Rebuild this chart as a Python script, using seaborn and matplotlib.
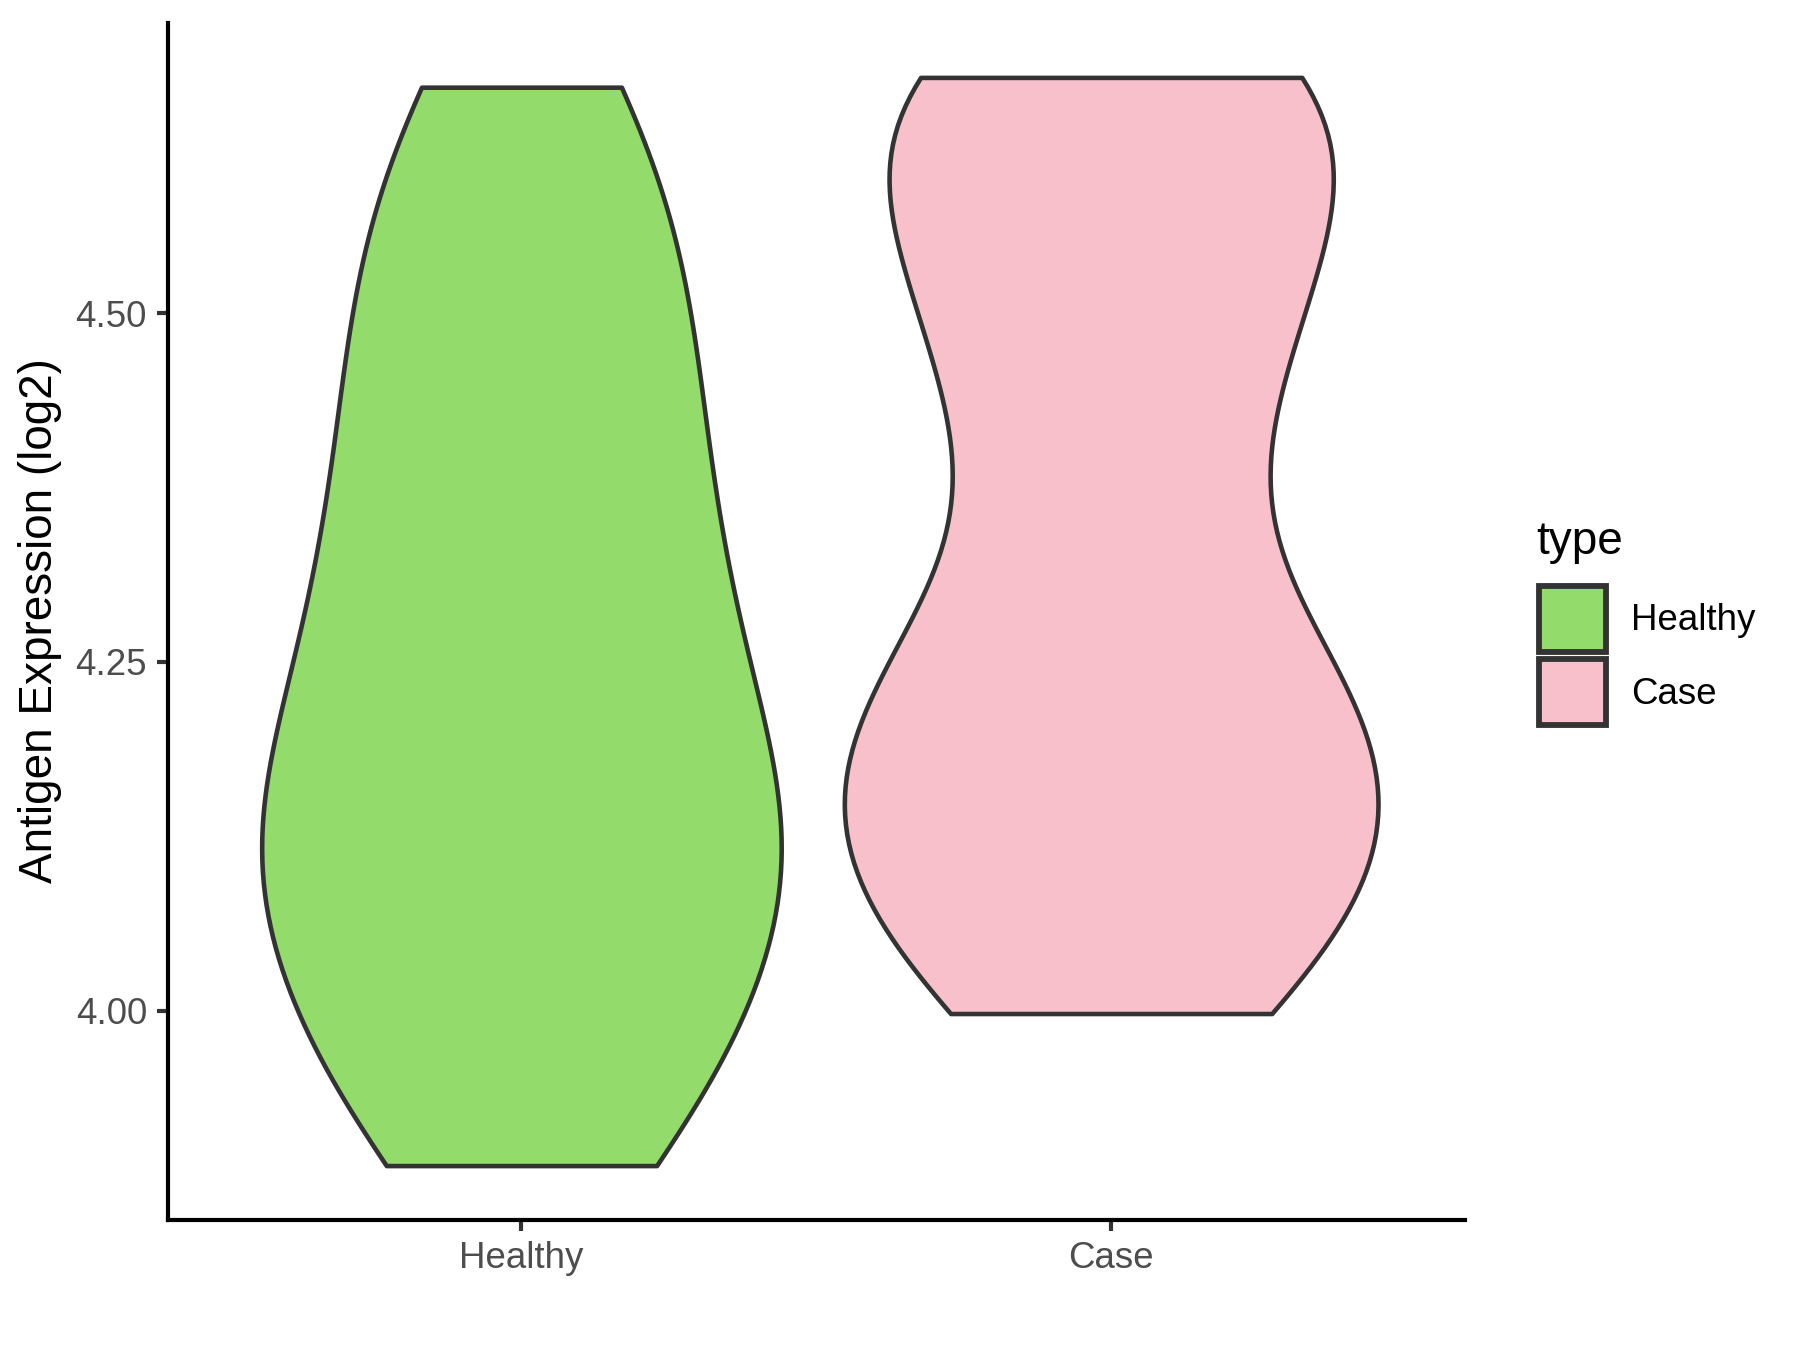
import numpy as np
import pandas as pd
import matplotlib
matplotlib.use("Agg")
import matplotlib.pyplot as plt
import seaborn as sns
from matplotlib.patches import Patch

# ---- data ----
categories = ["Healthy", "Case"]
healthy_values = [3.889, 3.95, 4.01, 4.06, 4.10, 4.14, 4.185, 4.24, 4.30,
                  4.36, 4.43, 4.50, 4.57, 4.662]
case_values = [3.998, 4.07, 4.12, 4.17, 4.22, 4.29, 4.415, 4.505, 4.575,
               4.655, 4.669]
fill_colors = {"Healthy": "#93DB6B", "Case": "#F8C0CB"}
y_ticks = [4.00, 4.25, 4.50]
y_tick_labels = ["4.00", "4.25", "4.50"]
y_label = "Antigen Expression (log2)"
legend_title = "type"

df = pd.DataFrame({
    "type": ["Healthy"] * len(healthy_values) + ["Case"] * len(case_values),
    "value": healthy_values + case_values,
})

sns.set_theme(style="ticks")
plt.rcParams["font.family"] = ["Liberation Sans", "DejaVu Sans"]

fig = plt.figure(figsize=(6, 4.5), dpi=300)
ax = fig.add_axes([167.6 / 1800, 1 - 1220 / 1350, (1465 - 167.6) / 1800, (1220 - 23) / 1350])

kernel_sd = {"Healthy": 0.10, "Case": 0.09}
violin_width = {"Healthy": 0.881, "Case": 0.905}
edge = "#333333"
violin_lw = 1.1
axis_lw = 1.0

for cat in categories:
    sub = df[df["type"] == cat]
    sd = sub["value"].std(ddof=1)
    sns.violinplot(data=sub, x="type", y="value", order=categories,
                   color=fill_colors[cat], saturation=1, inner=None, cut=0,
                   density_norm="width", bw_method=kernel_sd[cat] / sd,
                   width=violin_width[cat], linewidth=violin_lw, linecolor=edge,
                   ax=ax)

lo, hi = df["value"].min(), df["value"].max()
pad = 0.05 * (hi - lo)
ax.set_ylim(lo - pad, hi + pad)
ax.set_xlim(-0.6, 1.6)
ax.set_yticks(y_ticks)
ax.set_yticklabels(y_tick_labels)
ax.set_xlabel("")
ax.set_ylabel("")

for s in ["top", "right"]:
    ax.spines[s].set_visible(False)
for s in ["left", "bottom"]:
    ax.spines[s].set_color("black")
    ax.spines[s].set_linewidth(axis_lw)
    ax.spines[s].set_capstyle("projecting")
ax.tick_params(axis="both", labelsize=8.8, labelcolor="#4D4D4D", length=2.75,
               width=axis_lw, color=edge, pad=2.2)

fig.text(40 / 1800, 1 - 621 / 1350, y_label, rotation=90, ha="center",
         va="center", fontsize=11, color="black")

fig.text(1536 / 1800, 1 - 542 / 1350, legend_title, ha="left", va="center",
         fontsize=11, color="black")
handles = [Patch(facecolor=fill_colors[c], edgecolor=edge, linewidth=axis_lw * 1.4, label=c)
           for c in categories]
leg = fig.legend(handles=handles, loc="upper left",
                 bbox_to_anchor=(1539 / 1800, 1 - 586 / 1350), frameon=False,
                 fontsize=8.8, handlelength=1.82, handleheight=2.39,
                 labelspacing=0.2, handletextpad=0.68,
                 borderpad=0, borderaxespad=0)
for t in leg.get_texts():
    t.set_color("black")

fig.savefig("out.png", dpi=300, facecolor="white")
